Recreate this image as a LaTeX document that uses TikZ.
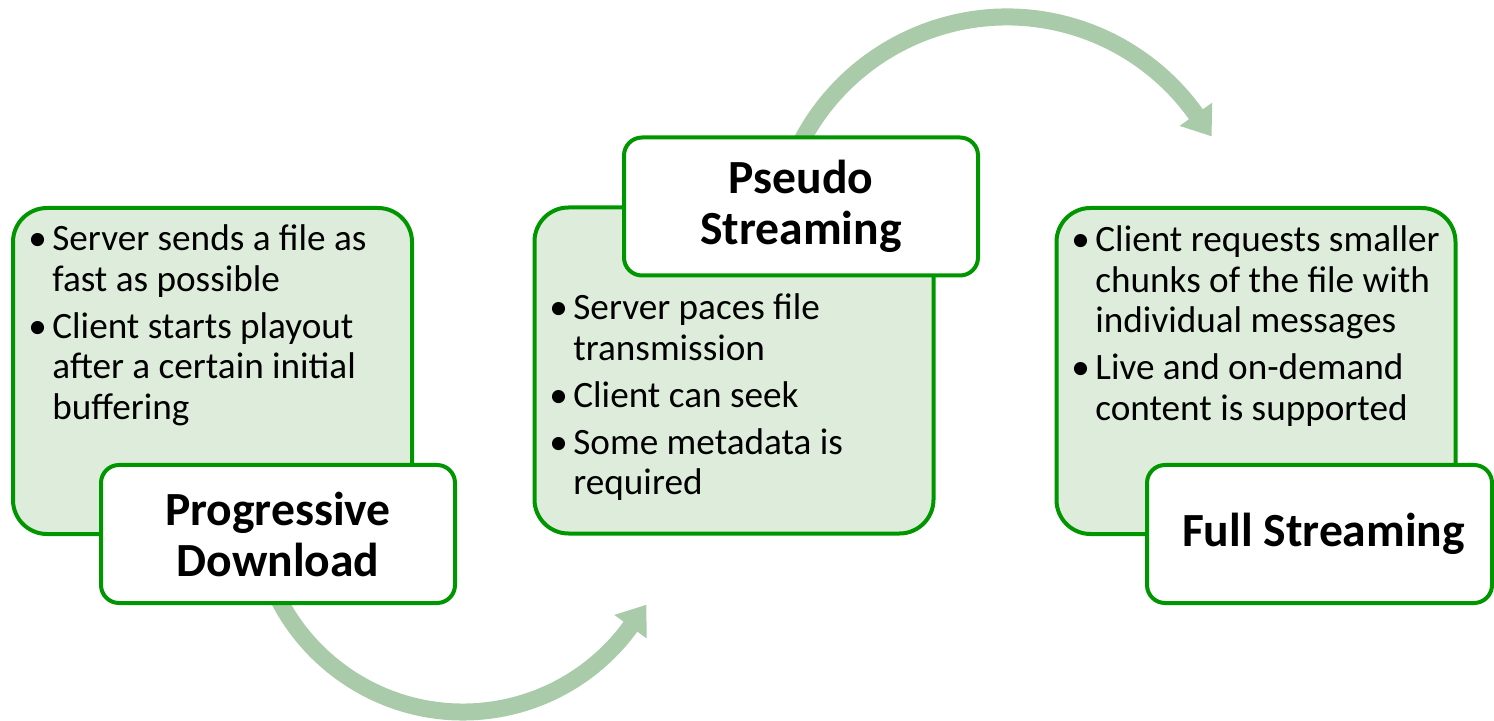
\documentclass[tikz,border=0pt]{standalone}
\usepackage{fontspec}
\setmainfont{Carlito}
\usetikzlibrary{calc}

\definecolor{boxgreen}{RGB}{0,150,0}
\definecolor{boxfill}{RGB}{222,237,219}
\definecolor{arrowgreen}{RGB}{170,203,170}

\newcommand{\bodyfont}{\fontsize{18.6pt}{20.25pt}\selectfont}
\newcommand{\titlefont}{\fontsize{23.8pt}{25.5pt}\selectfont\bfseries}
% one bullet point with a hanging indent
\newcommand{\bpt}[1]{\par\hangindent=10.5pt\hangafter=1\noindent\makebox[10.5pt][l]{\hspace*{-1.5pt}\textbullet}#1\par}
% a block of bullet points whose baseline is that of its first line
\newcommand{\bulletblock}[1]{\vtop{\hsize=190pt\raggedright\parindent=0pt\parskip=3.2pt\relax #1}}

\tikzset{
  panel/.style={draw=boxgreen, line width=2pt, fill=boxfill, rounded corners=17pt,
    minimum width=199.5pt, minimum height=163pt, inner sep=0pt},
  tag/.style={draw=boxgreen, line width=2pt, fill=white, rounded corners=9pt,
    minimum width=177pt, minimum height=69pt, inner sep=0pt, align=center, font=\titlefont},
  bullets/.style={anchor=base west, inner sep=0pt, font=\bodyfont},
  flow/.style={draw=arrowgreen, line width=8.5pt},
  flowhead/.style={fill=arrowgreen},
}

\begin{document}
\begin{tikzpicture}[x=0.5pt, y=-0.5pt]
\useasboundingbox (0,0) rectangle (1494,721);

% curved arrows between the stages (drawn first, behind the boxes)
\coordinate (c1) at (463,505);
\coordinate (c2) at (1007,249);
\draw[flow] ($(c1)+(170:207)$) arc[start angle=170, end angle=35.5, radius=207];
\fill[flowhead] ($(c1)+(36:187)$) -- ($(c1)+(36:227)$) -- ($(c1)+(36:207)+(-54:27)$) -- cycle;
\draw[flow] ($(c2)+(200:232)$) arc[start angle=200, end angle=325, radius=232];
\fill[flowhead] ($(c2)+(324.5:212)$) -- ($(c2)+(324.5:252)$) -- ($(c2)+(324.5:232)+(54.5:27)$) -- cycle;

% stage panels
\node[panel] (pd) at (212.5,371) {};
\node[panel] (ps) at (734,370.5) {};
\node[panel] (fs) at (1256,371) {};

% bullet texts
\node[bullets] (pdtext) at (31,251) {\bulletblock{%
  \bpt{Server sends a file as\newline fast as possible}%
  \bpt{Client starts playout\newline after a certain initial\newline buffering}}};
\node[bullets] (pstext) at (552,320) {\bulletblock{%
  \bpt{Server paces file\newline transmission}%
  \bpt{Client can seek}%
  \bpt{Some metadata is\newline required}}};
\node[bullets] (fstext) at (1074,252) {\bulletblock{%
  \bpt{Client requests smaller\newline chunks of the file with\newline individual messages}%
  \bpt{Live and on-demand\newline content is supported}}};

% stage titles
\node[tag] (pdtag) at (278,534) {Progressive\\Download};
\node[tag] (pstag) at (801,206.5) {Pseudo\\Streaming};
\node[tag, minimum width=172.5pt] (fstag) at (1319.5,534) {\hspace*{4pt}Full Streaming};
\end{tikzpicture}
\end{document}
